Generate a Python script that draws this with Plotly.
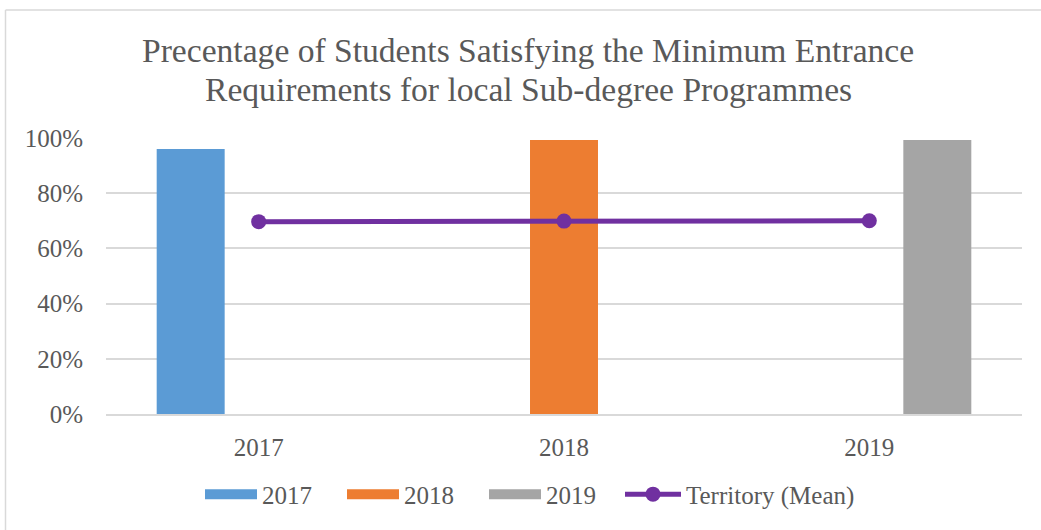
import plotly.graph_objects as go

categories = ["2017", "2018", "2019"]
series_names = ["2017", "2018", "2019"]
series_values = [
    [0.960, None, None],
    [None, 0.993, None],
    [None, None, 0.993],
]
series_colors = ["#5B9BD5", "#ED7D31", "#A5A5A5"]
territory_mean = [0.697, 0.699, 0.700]
y_ticks = [0, 0.2, 0.4, 0.6, 0.8, 1.0]
title_lines = ["Precentage of Students Satisfying the Minimum Entrance",
               "Requirements for local Sub-degree Programmes"]

W, H = 1041, 530
L, R, T, B = 106, 19, 138, 114
FONT = "Liberation Serif"
TXT = "#595959"

fig = go.Figure()
for name, vals, col in zip(series_names, series_values, series_colors):
    fig.add_trace(go.Bar(x=categories, y=vals, name=name, marker_color=col,
                         marker_line_width=0, showlegend=False, legendgroup=name))
    # legend entry drawn as a wide swatch like the original
    fig.add_trace(go.Scatter(x=[None], y=[None], name=name, mode="lines",
                             line=dict(color=col, width=13), legendgroup=name,
                             showlegend=True, legend="legend"))
fig.add_trace(go.Scatter(x=categories, y=territory_mean, name="Territory (Mean)",
                         mode="lines+markers",
                         line=dict(color="#7030A0", width=5),
                         marker=dict(color="#7030A0", size=15), legend="legend2"))

pw = W - L - R
ph = H - T - B
def px_x(p):
    return (p - L) / pw
def px_y(p):
    return (H - B - p) / ph

annotations = [
    dict(text=title_lines[0], xref="paper", yref="paper", x=px_x(528), y=px_y(50),
         xanchor="center", yanchor="middle", showarrow=False,
         font=dict(family=FONT, size=33.6, color=TXT)),
    dict(text=title_lines[1], xref="paper", yref="paper", x=px_x(528), y=px_y(89),
         xanchor="center", yanchor="middle", showarrow=False,
         font=dict(family=FONT, size=33.6, color=TXT)),
]

fig.update_layout(
    width=W, height=H,
    margin=dict(l=L, r=R, t=T, b=B),
    paper_bgcolor="white", plot_bgcolor="white",
    barmode="group", bargap=0.332, bargroupgap=0,
    font=dict(family=FONT, color=TXT, size=25),
    annotations=annotations,
    xaxis=dict(showgrid=False, showline=True, linecolor="#d9d9d9", linewidth=1.5,
               ticks="", tickfont=dict(size=25, color=TXT), ticklabelstandoff=10),
    yaxis=dict(range=[0, 1], tickvals=y_ticks, tickformat=".0%",
               showgrid=True, gridcolor="#d9d9d9", gridwidth=1.5,
               zeroline=False, showline=False, ticks="",
               tickfont=dict(size=25, color=TXT), ticklabelstandoff=22),
    legend=dict(orientation="h", x=px_x(200), xanchor="left", y=px_y(497), yanchor="middle",
                font=dict(size=25, color=TXT), itemwidth=52, entrywidth=75,
                traceorder="normal", bgcolor="rgba(0,0,0,0)"),
    legend2=dict(orientation="h", x=px_x(620), xanchor="left", y=px_y(497), yanchor="middle",
                 font=dict(size=25, color=TXT), itemwidth=56,
                 bgcolor="rgba(0,0,0,0)"),
    showlegend=True,
    shapes=[
        dict(type="line", xref="paper", yref="paper", x0=px_x(5.5), x1=px_x(1045),
             y0=px_y(9), y1=px_y(9), line=dict(color="#d9d9d9", width=1.5)),
        dict(type="line", xref="paper", yref="paper", x0=px_x(5.5), x1=px_x(5.5),
             y0=px_y(9), y1=px_y(535), line=dict(color="#d9d9d9", width=1.5)),
    ],
)
fig.write_html("out.html", config={"displayModeBar": False},
               post_script="document.body.style.margin='0';")
